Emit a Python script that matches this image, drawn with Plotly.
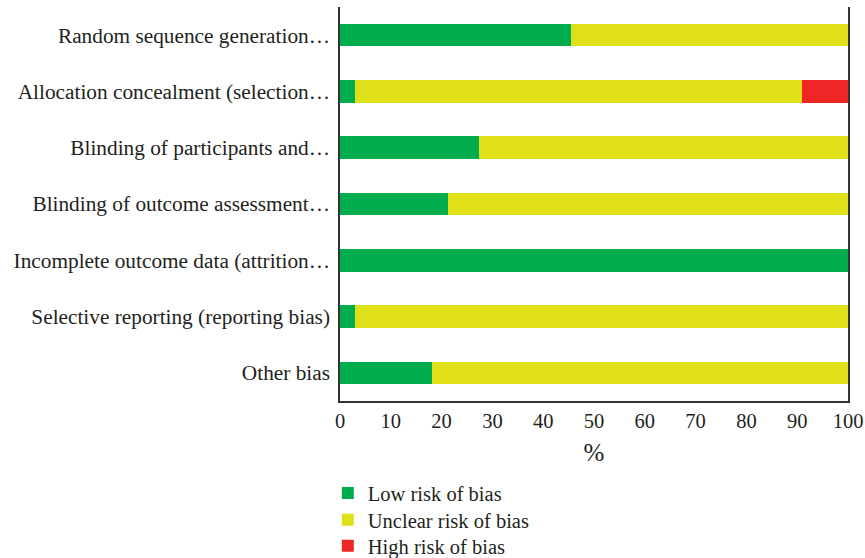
import plotly.graph_objects as go

categories = [
    "Random sequence generation…",
    "Allocation concealment (selection…",
    "Blinding of participants and…",
    "Blinding of outcome assessment…",
    "Incomplete outcome data (attrition…",
    "Selective reporting (reporting bias)",
    "Other bias",
]
low = [45.5, 3.0, 27.3, 21.2, 100.0, 3.0, 18.2]
unclear = [54.5, 87.9, 72.7, 78.8, 0.0, 97.0, 81.8]
high = [0.0, 9.1, 0.0, 0.0, 0.0, 0.0, 0.0]
series_names = ["Low risk of bias", "Unclear risk of bias", "High risk of bias"]
colors = ["#00AC4E", "#E0E01A", "#EE2626"]
x_ticks = [0, 10, 20, 30, 40, 50, 60, 70, 80, 90, 100]

FONT = "Liberation Serif"
legend_ids = ["legend", "legend2", "legend3"]
legend_ys = [-0.183, -0.251, -0.317]

fig = go.Figure()
for i, (name, vals) in enumerate(zip(series_names, [low, unclear, high])):
    fig.add_trace(go.Bar(
        y=categories, x=vals, name=name, orientation="h",
        marker=dict(color=colors[i], line=dict(width=0)),
        width=0.4, legend=legend_ids[i],
    ))

legend_common = dict(x=-0.024, xanchor="left", yanchor="top", orientation="v",
                     font=dict(size=20.5), bgcolor="rgba(0,0,0,0)")
layout_legends = {lid: dict(y=ly, **legend_common) for lid, ly in zip(legend_ids, legend_ys)}

fig.update_layout(
    barmode="stack",
    width=865, height=558,
    margin=dict(l=340, r=17, t=7, b=157, autoexpand=False),
    paper_bgcolor="white", plot_bgcolor="white",
    font=dict(family=FONT, size=20.5, color="#231F20"),
    showlegend=True,
    xaxis=dict(range=[0, 100], tickvals=x_ticks, showgrid=False, zeroline=False,
               showline=True, linecolor="#333333", linewidth=1.5,
               ticks="", ticklabelstandoff=1, automargin=False,
               title=dict(text="%", standoff=12)),
    yaxis=dict(categoryorder="array", categoryarray=categories, autorange="reversed",
               showgrid=False, zeroline=False, showline=True, mirror=True, automargin=False,
               linecolor="#333333", linewidth=1.5, ticks="", ticklabelstandoff=4,
               tickfont=dict(size=21.3)),
    **layout_legends,
)

fig.write_html("out.html", config={"displayModeBar": False},
               post_script="document.body.style.margin='0';")
